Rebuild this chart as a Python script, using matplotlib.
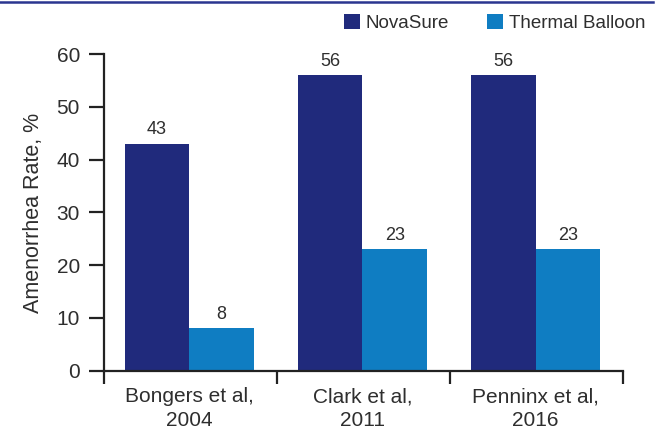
import numpy as np
import matplotlib.pyplot as plt

plt.rcParams['font.family'] = ['Liberation Sans', 'DejaVu Sans']

studies = ['Bongers et al,\n2004', 'Clark et al,\n2011', 'Penninx et al,\n2016']
novasure = [43, 56, 56]
balloon = [8, 23, 23]
series_names = ['NovaSure', 'Thermal Balloon']

navy = '#202a7c'
blue = '#0f7dc2'
txt = '#2e2e2e'

fig = plt.figure(figsize=(6.6, 4.34), dpi=100)
ax = fig.add_axes([0.157, 0.146, 0.787, 0.729])

x = np.arange(len(studies)) + 0.495
w = 0.373
b1 = ax.bar(x - w/2, novasure, w, color=navy, label=series_names[0])
b2 = ax.bar(x + w/2, balloon, w, color=blue, label=series_names[1])

for bars, vals in ((b1, novasure), (b2, balloon)):
    for r, v in zip(bars, vals):
        ax.text(r.get_x() + r.get_width()/2, v + 1.1, f'{v}',
                ha='center', va='bottom', fontsize=13, color=txt)

ax.set_xlim(0, 3)
ax.set_ylim(0, 60)
ax.set_yticks(range(0, 61, 10))
ax.set_xticks([0, 1, 2, 3])
ax.set_xticklabels([])
ax.set_xticks(x, minor=True)
ax.set_xticklabels(studies, minor=True, fontsize=15, color=txt, linespacing=1.28)
ax.tick_params(axis='x', which='minor', length=0, pad=12)
ax.tick_params(axis='x', which='major', length=9, width=1.6, color='#222222')
ax.tick_params(axis='y', length=11, width=1.6, color='#222222',
               labelsize=15, labelcolor=txt, pad=6)

for s in ['top', 'right']:
    ax.spines[s].set_visible(False)
for s in ['left', 'bottom']:
    ax.spines[s].set_linewidth(1.6)
    ax.spines[s].set_color('#222222')

ax.set_ylabel('Amenorrhea Rate, %', fontsize=15.5, color=txt, labelpad=9)

fig.legend(handles=[b1, b2], loc='upper right', bbox_to_anchor=(0.978, 0.968),
           ncol=2, frameon=False, fontsize=13.5, handlelength=0.85,
           handleheight=0.85, handletextpad=0.3, columnspacing=2.05,
           borderpad=0, borderaxespad=0, labelcolor=txt)

# thin rule across the top
fig.add_artist(plt.Line2D([0, 0.99], [0.996, 0.996], color='#2a3590', lw=1.8,
                          transform=fig.transFigure))

fig.savefig('out.png', dpi=100)
